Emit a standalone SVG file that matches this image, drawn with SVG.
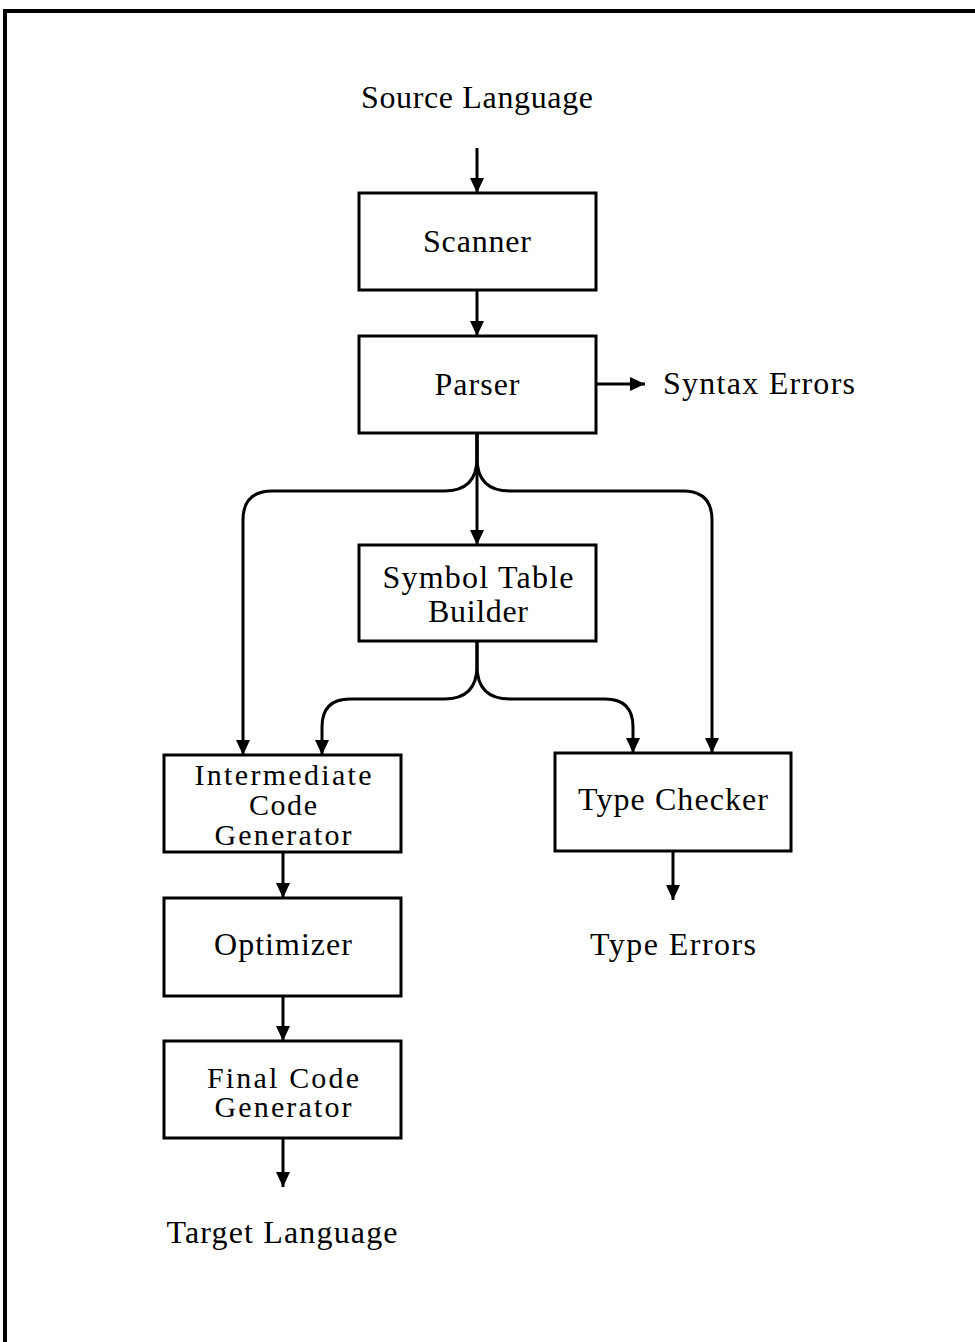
<svg xmlns="http://www.w3.org/2000/svg" width="975" height="1342" viewBox="0 0 975 1342">
  <style>
    .box { fill: #ffffff; stroke: #000000; stroke-width: 3; }
    .edge { fill: none; stroke: #000000; stroke-width: 3; }
    .lbl { font-family: "Liberation Serif", "DejaVu Serif", serif; font-size: 32px; fill: #000000; text-anchor: middle; }
    .sm { font-size: 30px; }
    .frame { fill: none; stroke: #000000; stroke-width: 4; }
  </style>
  <defs>
    <marker id="arrow" markerUnits="userSpaceOnUse" markerWidth="15" markerHeight="16" viewBox="0 0 15 16" refX="15" refY="8" orient="auto">
      <path d="M0,1 L15,8 L0,15 Z" fill="#000000"/>
    </marker>
  </defs>
  <rect width="975" height="1342" fill="#ffffff"/>
  <!-- outer frame (top and left edges) -->
  <path class="frame" d="M5,1342 L5,11 L975,11"/>

  <!-- free labels -->
  <g id="source-language"><text class="lbl" x="477" y="108" textLength="232" lengthAdjust="spacing">Source Language</text></g>
  <g id="syntax-errors"><text class="lbl" x="759" y="394" textLength="192" lengthAdjust="spacing">Syntax Errors</text></g>
  <g id="type-errors"><text class="lbl" x="673" y="955" textLength="166" lengthAdjust="spacing">Type Errors</text></g>
  <g id="target-language"><text class="lbl" x="282" y="1243" textLength="231" lengthAdjust="spacing">Target Language</text></g>

  <!-- process nodes -->
  <g id="scanner">
    <rect class="box" x="359" y="193" width="237" height="97"/>
    <text class="lbl" x="477" y="252" textLength="108" lengthAdjust="spacing">Scanner</text>
  </g>
  <g id="parser">
    <rect class="box" x="359" y="336" width="237" height="97"/>
    <text class="lbl" x="477" y="395" textLength="85" lengthAdjust="spacing">Parser</text>
  </g>
  <g id="symbol-table-builder">
    <rect class="box" x="359" y="545" width="237" height="96"/>
    <text class="lbl" x="478" y="588" textLength="191" lengthAdjust="spacing">Symbol Table</text>
    <text class="lbl" x="478" y="622" textLength="100" lengthAdjust="spacing">Builder</text>
  </g>
  <g id="intermediate-code-generator">
    <rect class="box" x="164" y="755" width="237" height="97"/>
    <text class="lbl sm" x="283" y="785" textLength="177" lengthAdjust="spacing">Intermediate</text>
    <text class="lbl sm" x="283" y="815" textLength="68" lengthAdjust="spacing">Code</text>
    <text class="lbl sm" x="283" y="845" textLength="137" lengthAdjust="spacing">Generator</text>
  </g>
  <g id="type-checker">
    <rect class="box" x="555" y="753" width="236" height="98"/>
    <text class="lbl" x="673" y="810" textLength="190" lengthAdjust="spacing">Type Checker</text>
  </g>
  <g id="optimizer">
    <rect class="box" x="164" y="898" width="237" height="98"/>
    <text class="lbl" x="283" y="955" textLength="138" lengthAdjust="spacing">Optimizer</text>
  </g>
  <g id="final-code-generator">
    <rect class="box" x="164" y="1041" width="237" height="97"/>
    <text class="lbl sm" x="283" y="1088" textLength="152" lengthAdjust="spacing">Final Code</text>
    <text class="lbl sm" x="283" y="1117" textLength="137" lengthAdjust="spacing">Generator</text>
  </g>

  <!-- connectors -->
  <g id="connectors">
    <path class="edge" marker-end="url(#arrow)" d="M477,148 L477,193"/>
    <path class="edge" marker-end="url(#arrow)" d="M477,290 L477,336"/>
    <path class="edge" marker-end="url(#arrow)" d="M596,384 L645,384"/>
    <path class="edge" marker-end="url(#arrow)" d="M477,433 L477,545"/>
    <path class="edge" marker-end="url(#arrow)" d="M477,433 L477,458 Q477,491 444,491 L272,491 Q243,491 243,520 L243,755"/>
    <path class="edge" marker-end="url(#arrow)" d="M477,433 L477,458 Q477,491 510,491 L683,491 Q712,491 712,520 L712,753"/>
    <path class="edge" marker-end="url(#arrow)" d="M477,641 L477,666 Q477,699 444,699 L350,699 Q322,699 322,727 L322,755"/>
    <path class="edge" marker-end="url(#arrow)" d="M477,641 L477,666 Q477,699 510,699 L605,699 Q633,699 633,727 L633,753"/>
    <path class="edge" marker-end="url(#arrow)" d="M673,851 L673,900"/>
    <path class="edge" marker-end="url(#arrow)" d="M283,852 L283,898"/>
    <path class="edge" marker-end="url(#arrow)" d="M283,996 L283,1041"/>
    <path class="edge" marker-end="url(#arrow)" d="M283,1138 L283,1187"/>
  </g>
</svg>
